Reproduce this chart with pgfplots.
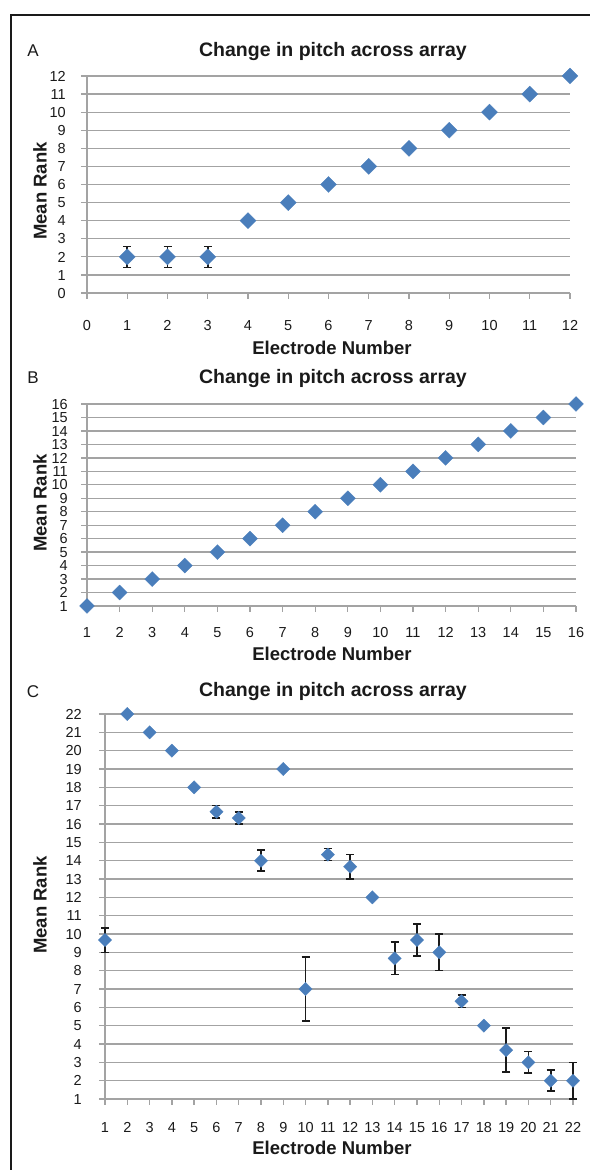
\documentclass[border=0pt]{standalone}
\usepackage{fontspec}
\setmainfont{Liberation Sans}
\usepackage{pgfplots}
\pgfplotsset{compat=1.18}
\definecolor{mk}{HTML}{4A7EBB}
\definecolor{gr}{HTML}{A3A3A3}
\definecolor{tx}{HTML}{1A1A1A}

\pgfplotsset{
  panel/.style={
    scale only axis, clip=false,
    axis x line*=bottom, axis y line*=left,
    axis line style={gr, line width=1.3pt, -},
    ymajorgrids, grid style={gr, line width=1.3pt},
    tick align=outside, major tick length=6pt,
    tick style={gr, line width=1.3pt},
    xtick distance=1, ytick distance=1,
    /pgf/number format/assume math mode=true,
    ticklabel style={font=\fontsize{14.5}{15}\selectfont, text=tx, inner sep=0pt},
  },
  ser/.style={only marks, mark=square*, mark options={rotate=45, fill=mk, draw=mk, line width=0.3pt}},
  eser/.style={only marks, mark=square*, mark options={rotate=45, fill=mk, draw=mk, line width=0.3pt},
    error bars/.cd, y dir=both, y explicit,
    error bar style={tx, line width=1.7pt},
    error mark options={rotate=90, tx, mark size=4pt, line width=1.6pt}},
}

\begin{document}
\begin{tikzpicture}[x=1pt,y=1pt]
\useasboundingbox (0,0) rectangle (590,1170);
\draw[line width=2pt, tx] (11,0) -- (11,1155) -- (590,1155);

% ---------------- Panel A ----------------
\node[font=\fontsize{17}{18}\selectfont, text=tx] at (33,1119) {A};
\node[font=\bfseries\fontsize{19.5}{20}\selectfont, text=tx, anchor=base] at (333,1113.3) {Change in pitch across array};
\node[font=\bfseries\fontsize{18.5}{19}\selectfont, text=tx, rotate=90] at (40,979) {Mean Rank};
\node[font=\bfseries\fontsize{18.5}{19}\selectfont, text=tx, anchor=base] at (332,815) {Electrode Number};
\begin{axis}[panel, at={(87pt,877pt)}, anchor=south west, width=483pt, height=217pt,
  xmin=0, xmax=12, ymin=0, ymax=12,
  xticklabel style={anchor=base, yshift=-32pt},
  yticklabel style={anchor=base east, xshift=-15pt, yshift=-5.2pt}]
\addplot[mark size=5.66, ser] coordinates {(4,4) (5,5) (6,6) (7,7) (8,8) (9,9) (10,10) (11,11) (12,12)};
\addplot[mark size=5.66, eser] coordinates {(1,2) +- (0,0.58) (2,2) +- (0,0.58) (3,2) +- (0,0.58)};
\end{axis}

% ---------------- Panel B ----------------
\node[font=\fontsize{17}{18}\selectfont, text=tx] at (33,792) {B};
\node[font=\bfseries\fontsize{19.5}{20}\selectfont, text=tx, anchor=base] at (333,786) {Change in pitch across array};
\node[font=\bfseries\fontsize{18.5}{19}\selectfont, text=tx, rotate=90] at (40,667) {Mean Rank};
\node[font=\bfseries\fontsize{18.5}{19}\selectfont, text=tx, anchor=base] at (332,509) {Electrode Number};
\begin{axis}[panel, at={(87pt,564pt)}, anchor=south west, width=489pt, height=202pt,
  xmin=1, xmax=16, ymin=1, ymax=16,
  xticklabel style={anchor=base, yshift=-25.2pt},
  yticklabel style={anchor=base east, xshift=-13pt, yshift=-5.2pt}]
\addplot[mark size=5.3, ser] coordinates {(1,1) (2,2) (3,3) (4,4) (5,5) (6,6) (7,7) (8,8) (9,9) (10,10) (11,11) (12,12) (13,13) (14,14) (15,15) (16,16)};
\end{axis}

% ---------------- Panel C ----------------
\node[font=\fontsize{17}{18}\selectfont, text=tx] at (33,478.5) {C};
\node[font=\bfseries\fontsize{19.5}{20}\selectfont, text=tx, anchor=base] at (333,473) {Change in pitch across array};
\node[font=\bfseries\fontsize{18.5}{19}\selectfont, text=tx, rotate=90] at (40,265) {Mean Rank};
\node[font=\bfseries\fontsize{18.5}{19}\selectfont, text=tx, anchor=base] at (332,15) {Electrode Number};
\begin{axis}[panel, at={(105pt,71pt)}, anchor=south west, width=468pt, height=385pt,
  xmin=1, xmax=22, ymin=1, ymax=22,
  xticklabel style={anchor=base, yshift=-28pt},
  yticklabel style={anchor=base east, xshift=-17pt, yshift=-5.2pt}]
\addplot[mark size=4.7, ser] coordinates {(2,22) (3,21) (4,20) (5,18) (9,19) (13,12) (18,5)};
\addplot[mark size=4.7, eser] coordinates {
 (1,9.67) +- (0,0.67) (6,16.67) +- (0,0.33) (7,16.33) +- (0,0.33) (8,14) +- (0,0.58)
 (10,7) +- (0,1.73) (11,14.33) +- (0,0.33) (12,13.67) +- (0,0.67) (14,8.67) +- (0,0.88)
 (15,9.67) +- (0,0.88) (16,9) +- (0,1) (17,6.33) +- (0,0.33) (19,3.67) +- (0,1.2)
 (20,3) +- (0,0.58) (21,2) +- (0,0.58) (22,2) +- (0,1)};
\end{axis}
\end{tikzpicture}
\end{document}
